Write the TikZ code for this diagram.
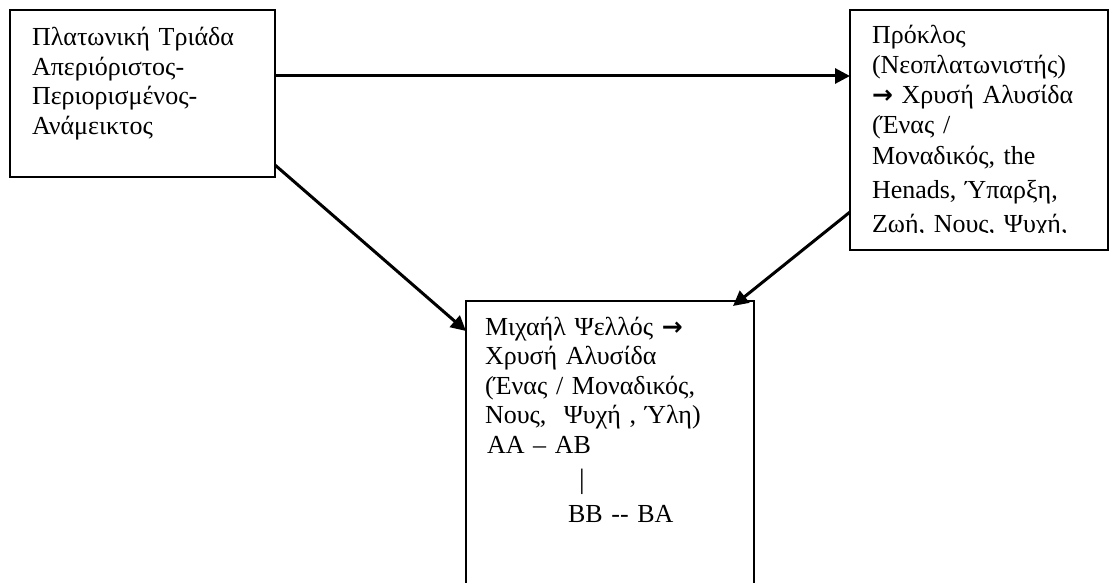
\documentclass[tikz,border=0pt]{standalone}
\usepackage{fontspec}
\setmainfont{Liberation Serif}
\newfontfamily\arrfont{DejaVu Sans}
\usetikzlibrary{arrows.meta,calc}
\newcommand\rarr{{\arrfont\bfseries\fontsize{25}{25}\selectfont →}}
\tikzset{
  box/.style={draw=black, line width=2pt, rectangle, inner sep=0pt, outer sep=0pt, anchor=north west},
  txt/.style={anchor=base west, inner sep=0pt, outer sep=0pt, align=left, text width=#1},
  txt/.default=260pt,
  conn/.style={line width=3pt, -{Triangle[length=15pt,width=15pt]}},
}
\begin{document}
\begin{tikzpicture}[x=1pt,y=-1pt]
\clip (0,0) rectangle (1109,583);
\fill[white] (0,0) rectangle (1109,583);
% boxes
\node[box, minimum width=265pt, minimum height=167pt] (b1) at (10,10) {};
\node[box, minimum width=258pt, minimum height=240pt] (b2) at (850,10) {};
\node[box, minimum width=288pt, minimum height=320pt] (b3) at (466,301) {};
% texts
\node[txt, font=\fontsize{26}{29.5}\selectfont] (t1) at (32,46)
  {Πλατωνική Τριάδα\\Απεριόριστος-\\Περιορισμένος-\\Ανάμεικτος};
\begin{scope}
  \clip ([xshift=2pt,yshift=-2pt]b2.north west) rectangle ([xshift=-2pt,yshift=18pt]b2.south east);
  \node[txt, font=\fontsize{26}{30}\selectfont] (t2) at (872,44)
    {Πρόκλος\\(Νεοπλατωνιστής)\\\rarr{} Χρυσή Αλυσίδα\\(Ένας /\\[1pt]Μοναδικός, the\\[4pt]Henads, Ύπαρξη,\\[4pt]Ζωή, Νους, Ψυχή,};
\end{scope}
\node[txt, font=\fontsize{26}{29.5}\selectfont] (t3) at (485,335)
  {Μιχαήλ Ψελλός \rarr\\Χρυσή Αλυσίδα\\(Ένας / Μοναδικός,\\Νους,\ \ Ψυχή , Ύλη)};
\node[txt=120pt, font=\fontsize{26}{30}\selectfont] (t4) at (487,453) {AA – AB};
\node[txt=20pt, font=\fontsize{28}{30}\selectfont] (t5) at (579,488) {|};
\node[txt=150pt, font=\fontsize{26}{30}\selectfont] (t6) at (568,522) {BB -\kern0pt- BA};
% connectors
\draw[conn] ([yshift=-66pt]b1.north east) -- ([yshift=-66pt]b2.north west);
\draw[conn] ([yshift=12pt]b1.south east) -- ([yshift=-30pt]b3.north west);
\draw[conn] ([yshift=38pt]b2.south west) -- ([xshift=-21pt,yshift=-5pt]b3.north east);
\end{tikzpicture}
\end{document}
